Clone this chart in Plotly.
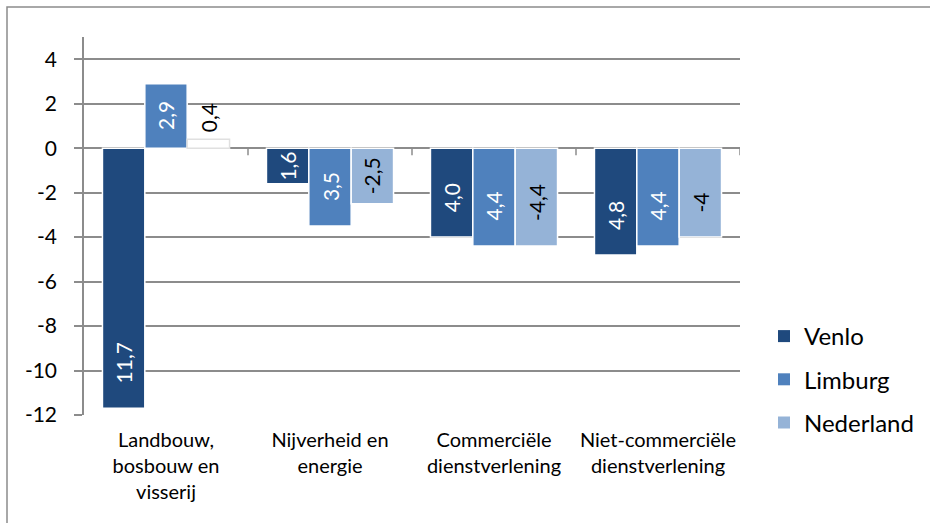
import plotly.graph_objects as go

categories = ["Landbouw,<br>bosbouw en<br>visserij", "Nijverheid en<br>energie",
              "Commerciële<br>dienstverlening", "Niet-commerciële<br>dienstverlening"]
series_names = ["Venlo", "Limburg", "Nederland"]
venlo = [-11.7, -1.6, -4.0, -4.8]
limburg = [2.9, -3.5, -4.4, -4.4]
nederland = [0.4, -2.5, -4.4, -4.0]
venlo_labels = ["11,7", "1,6", "4,0", "4,8"]
limburg_labels = ["2,9", "3,5", "4,4", "4,4"]
nederland_labels = ["0,4", "-2,5", "-4,4", "-4"]
y_ticks = [4, 2, 0, -2, -4, -6, -8, -10, -12]

colors = ["#1F497D", "#4F81BD", "#95B3D7"]
label_colors = ["white", "white", "black"]
FONT = "Lato, Carlito, Calibri, sans-serif"

W, H = 930, 523
ML, MR, MT, MB = 84, 190, 37, 108
YMIN, YMAX = -12, 5
BARGAP = 0.225
plot_w = W - ML - MR
plot_h = H - MT - MB
ppu = plot_h / (YMAX - YMIN)

all_vals = [venlo, limburg, nederland]
all_labels = [venlo_labels, limburg_labels, nederland_labels]
xs = list(range(len(categories)))

fig = go.Figure()
for i, (name, vals) in enumerate(zip(series_names, all_vals)):
    mcolors = [colors[i]] * len(vals)
    lcolors = ["white"] * len(vals)
    if i == 2:
        mcolors[0] = "white"      # the 0,4 bar is drawn without fill
        lcolors[0] = "#E0E0E0"
    fig.add_trace(go.Bar(
        x=xs, y=vals, name=name, legendgroup=name, offsetgroup=str(i),
        marker=dict(color=mcolors, line=dict(color=lcolors, width=1.5)),
        showlegend=False,
    ))
# legend entries in series colour (share the offset group so no extra slot)
for i, name in enumerate(series_names):
    fig.add_trace(go.Bar(x=[None], y=[None], name=name, legendgroup=name, offsetgroup=str(i),
                         marker=dict(color=colors[i], line=dict(width=0)),
                         showlegend=True, hoverinfo="skip"))

# data labels
w = (1 - BARGAP) / 3
for i, (vals, labs) in enumerate(zip(all_vals, all_labels)):
    for j, (v, lab) in enumerate(zip(vals, labs)):
        xpos = j + (i - 1) * w
        barpx = abs(v) * ppu
        if v < 0:
            if barpx >= 80:
                y, ya, ys = v, "bottom", 23
            else:
                y, ya, ys = v / 2, "middle", 0
        else:
            if barpx >= 40:
                y, ya, ys = v / 2, "middle", 0
            else:
                y, ya, ys = v, "bottom", 5
        fig.add_annotation(x=xpos, y=y, xref="x", yref="y", text=lab,
                           showarrow=False, textangle=-90, yanchor=ya, yshift=ys,
                           xanchor="center",
                           font=dict(family=FONT, size=21, color=label_colors[i]))

# category boundary ticks on the zero line
for j in range(len(categories)):
    fig.add_shape(type="line", xref="x", yref="y", x0=j + 0.5, x1=j + 0.5,
                  ysizemode="pixel", yanchor=0, y0=0, y1=-7,
                  line=dict(color="#8C8C8C", width=1.5))

# outer chart border
fig.add_shape(type="rect", xref="paper", yref="paper",
              x0=(7 - ML) / plot_w, x1=(W + 10 - ML) / plot_w,
              y0=-(H + 10 - MT - plot_h) / plot_h, y1=(plot_h + MT - 7) / plot_h,
              line=dict(color="#8C8C8C", width=1.5), fillcolor="rgba(0,0,0,0)", layer="below")

fig.update_layout(
    width=W, height=H,
    margin=dict(l=ML, r=MR, t=MT, b=MB, pad=0, autoexpand=False),
    paper_bgcolor="white", plot_bgcolor="white",
    barmode="group", bargap=BARGAP, bargroupgap=0,
    font=dict(family=FONT, color="black"),
    showlegend=True,
    legend=dict(x=(764 - ML) / plot_w, xanchor="left", y=(H - MB - 314) / plot_h, yanchor="top",
                font=dict(size=24, family=FONT, color="black"), tracegroupgap=9,
                traceorder="grouped", bgcolor="rgba(0,0,0,0)"),
    xaxis=dict(range=[-0.5, len(categories) - 0.5], tickvals=xs, ticktext=categories,
               showgrid=False, zeroline=False, showline=False, ticks="",
               tickfont=dict(size=20, family=FONT, color="black"), ticklabelstandoff=11),
    yaxis=dict(range=[YMIN, YMAX], tickvals=y_ticks, ticktext=[str(t) for t in y_ticks],
               showgrid=True, gridcolor="#8C8C8C", gridwidth=1.5,
               zeroline=True, zerolinecolor="#8C8C8C", zerolinewidth=1.5,
               showline=True, linecolor="#8C8C8C", linewidth=1.5,
               ticks="outside", ticklen=8, tickcolor="#8C8C8C", tickwidth=1.5,
               tickfont=dict(size=21, family=FONT, color="black"), ticklabelstandoff=13),
)

fig.write_html("out.html", config={"displayModeBar": False},
               post_script="document.body.style.margin='0';")
